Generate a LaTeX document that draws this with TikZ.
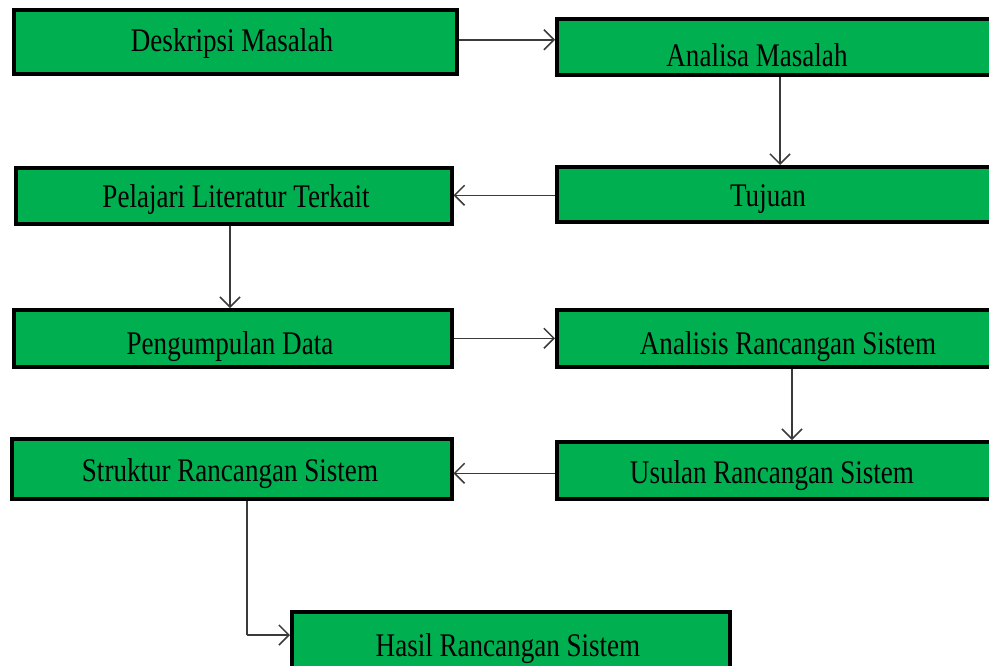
\documentclass[tikz,border=0pt]{standalone}
\usepackage{fontspec}
\setmainfont{Liberation Serif}[FakeStretch=0.82]
\usetikzlibrary{arrows.meta,calc}
\definecolor{boxgreen}{HTML}{00B050}
\definecolor{linegray}{HTML}{3A3A3A}
\tikzset{
  box/.style={draw=black, line width=3.5pt, fill=boxgreen, rectangle, inner sep=0pt},
  lbl/.style={font=\fontsize{33}{33}\selectfont, text=black, inner sep=0pt},
  arr/.style={draw=linegray, line width=1.5pt, -{Straight Barb[length=10pt,width=20pt,line width=1.5pt]}},
  conn/.style={draw=linegray, line width=1.5pt}
}
\begin{document}
\begin{tikzpicture}[x=1pt,y=-1pt]
\useasboundingbox (0,0) rectangle (989,665);
\clip (0,0) rectangle (989,665);
% boxes (corner coordinates in pixels)
\node[box, anchor=north west, minimum width=443pt, minimum height=64pt] (b1) at (12,8) {};
\node[box, anchor=north west, minimum width=470pt, minimum height=56pt] (b2) at (555,17) {};
\node[box, anchor=north west, minimum width=470pt, minimum height=55pt] (b3) at (555,165) {};
\node[box, anchor=north west, minimum width=436pt, minimum height=56pt] (b4) at (14,166) {};
\node[box, anchor=north west, minimum width=438pt, minimum height=57pt] (b5) at (12,308) {};
\node[box, anchor=north west, minimum width=470pt, minimum height=57pt] (b6) at (555,308) {};
\node[box, anchor=north west, minimum width=470pt, minimum height=57pt] (b7) at (555,440) {};
\node[box, anchor=north west, minimum width=440pt, minimum height=60pt] (b8) at (10,437) {};
\node[box, anchor=north west, minimum width=438pt, minimum height=80pt] (b9) at (290,610) {};
% labels
\node[lbl] (t1) at (232,44) {Deskripsi Masalah};
\node[lbl] (t2) at (757,55) {Analisa Masalah};
\node[lbl] (t3) at (768,199) {Tujuan};
\node[lbl] (t4) at (236,200) {Pelajari Literatur Terkait};
\node[lbl] (t5) at (230,347) {Pengumpulan Data};
\node[lbl] (t6) at (788,347) {Analisis Rancangan Sistem};
\node[lbl] (t7) at (772,476) {Usulan Rancangan Sistem};
\node[lbl] (t8) at (230,474) {Struktur Rancangan Sistem};
\node[lbl] (t9) at (508,649) {Hasil Rancangan Sistem};
% connectors
\draw[arr] ([yshift=2pt]b1.east) -- ([yshift=2pt]b1.east -| b2.west);
\draw[arr] ([xshift=225pt]b2.south west) -- ([xshift=225pt]b2.south west |- b3.north);
\draw[arr] ([yshift=-1pt]b3.west) -- ([yshift=-1pt]b3.west -| b4.east);
\draw[arr] ([xshift=216pt]b4.south west) -- ([xshift=216pt]b4.south west |- b5.north);
\draw[arr] (b5.east) -- (b5.east -| b6.west);
\draw[arr] ([xshift=237pt]b6.south west) -- ([xshift=237pt]b6.south west |- b7.north);
\draw[arr] ([yshift=-3pt]b7.west) -- ([yshift=-3pt]b7.west -| b8.east);
\coordinate (bend) at ([xshift=237pt]b8.south west |- 0,635);
\draw[conn] ([xshift=237pt]b8.south west) -- (bend);
\draw[arr] (bend) -- (bend -| b9.west);
\end{tikzpicture}
\end{document}
